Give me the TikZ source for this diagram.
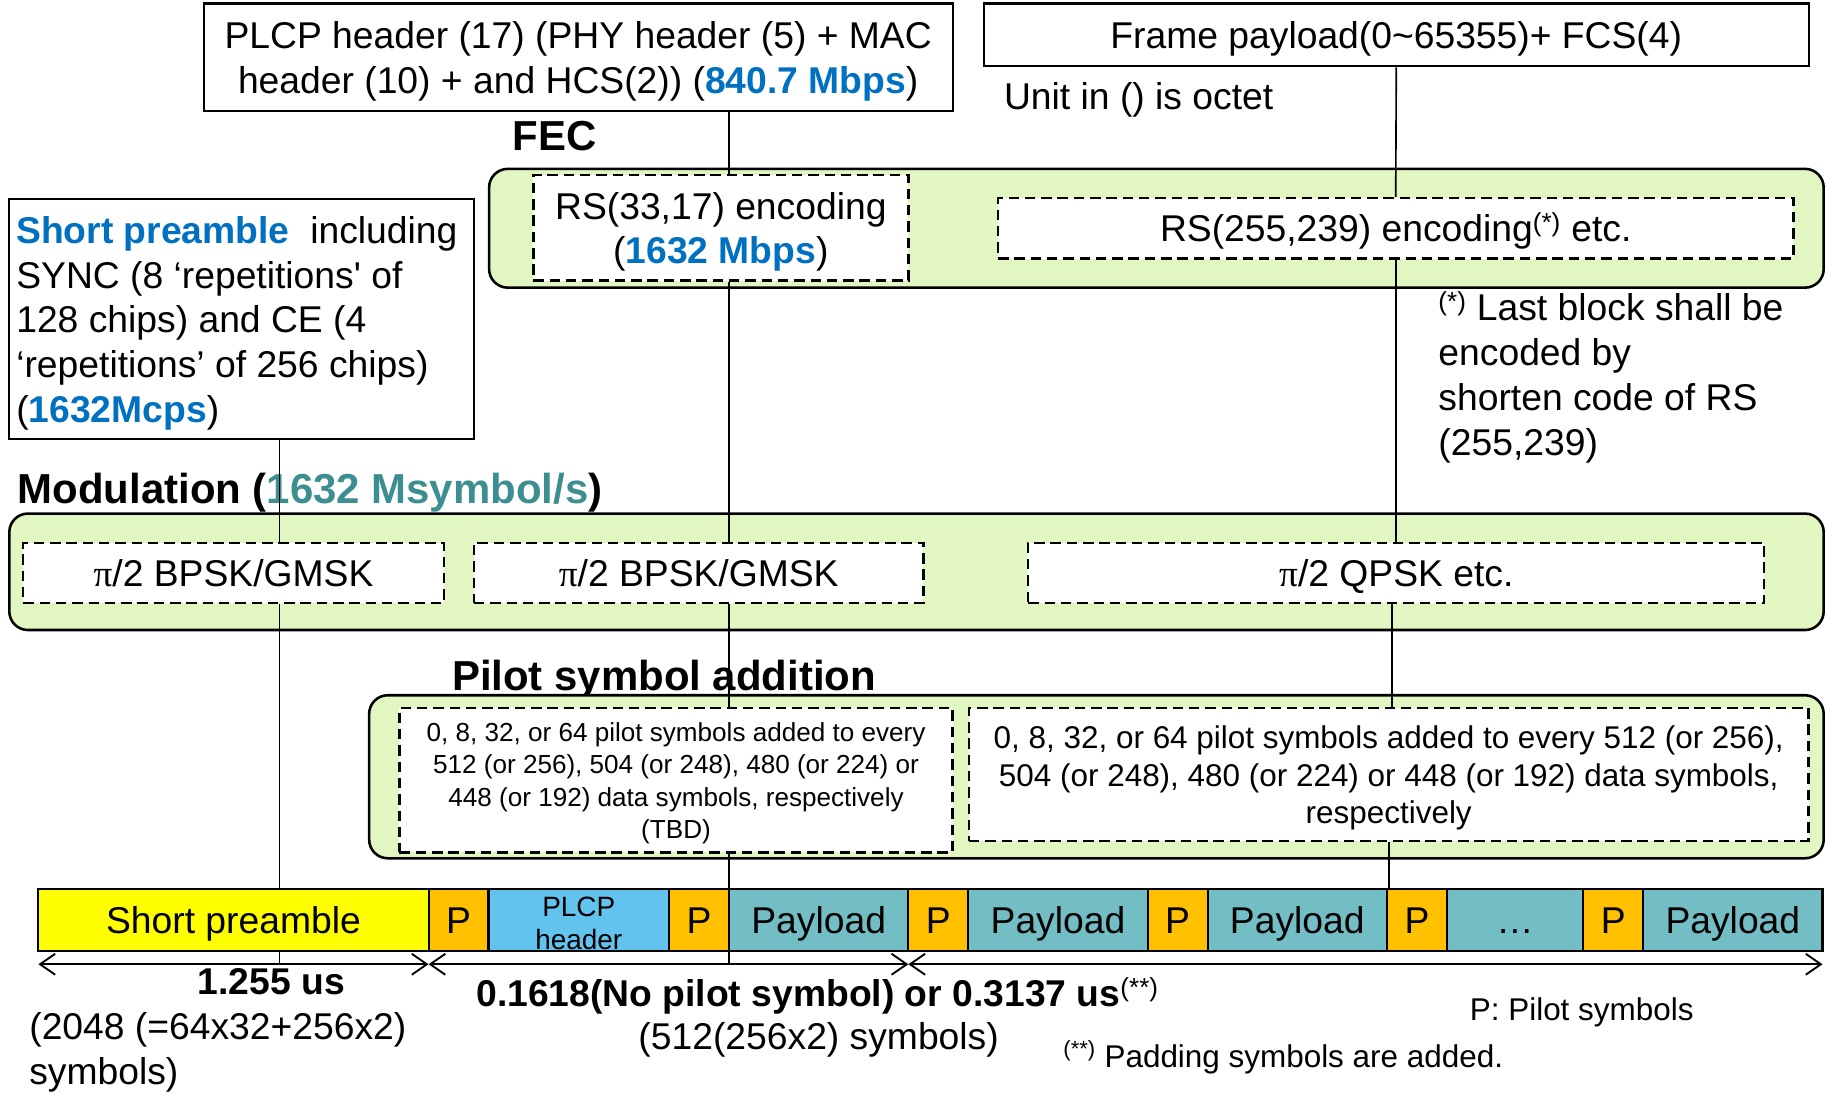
\documentclass[tikz,border=0pt]{standalone}
\usepackage{fontspec}
\setmainfont{Liberation Sans}
\newfontfamily\greekfont{Liberation Serif}
\usepackage{tikz}
\usetikzlibrary{arrows.meta,positioning}

\definecolor{textblue}{RGB}{0,112,192}
\definecolor{textteal}{RGB}{60,142,145}
\definecolor{stagegreen}{RGB}{226,246,194}
\definecolor{preyellow}{RGB}{255,255,0}
\definecolor{pilotorange}{RGB}{255,192,0}
\definecolor{headerblue}{RGB}{98,195,238}
\definecolor{payloadteal}{RGB}{114,190,196}

\newcommand{\fsbody}{\fontsize{32}{38.5}\selectfont}
\newcommand{\fshead}{\fontsize{36}{43}\selectfont}
\newcommand{\fspila}{\fontsize{22.4}{28}\selectfont}
\newcommand{\fspilb}{\fontsize{27}{32.5}\selectfont}
\newcommand{\fsseg}{\fontsize{24}{28}\selectfont}
\newcommand{\capstrut}{\rule[-.234em]{0pt}{1.184em}}

\begin{document}
\begin{tikzpicture}[x=1pt,y=-1pt,font=\fsbody,
    solid box/.style={draw,line width=1.8pt,fill=white,inner sep=0pt,align=flush center,execute at begin node=\capstrut},
    dash box/.style={draw,dash pattern=on 9pt off 5pt,line width=2pt,fill=white,inner sep=0pt,align=flush center,execute at begin node=\capstrut},
    stage box/.style={draw,line width=2.2pt,rounded corners=16pt,fill=stagegreen},
    stage head/.style={font=\fshead\bfseries,inner sep=0pt,anchor=west},
    seg/.style={draw,line width=1.8pt,minimum height=54pt,inner sep=0pt,outer sep=0pt,align=flush center,execute at begin node=\capstrut},
    pilot seg/.style={seg,fill=pilotorange,minimum width=51.5pt},
    payload seg/.style={seg,fill=payloadteal,minimum width=154pt},
    link/.style={line width=1.4pt},
    dim arrow/.style={{Straight Barb[length=13pt,width=18pt]}-{Straight Barb[length=13pt,width=18pt]},line width=1.6pt}]

    \useasboundingbox (0,0) rectangle (1568,940);

    \node[solid box,text width=630pt,minimum width=643pt,minimum height=92pt] (plcp) at (496.5,49)
        {PLCP header (17) (PHY header (5) + MAC\\header (10) + and HCS(2)) ({\bfseries\color{textblue}840.7 Mbps})};
    \node[solid box,minimum width=708pt,minimum height=54pt] (frame) at (1199,30)
        {Frame payload(0\textasciitilde 65355)+ FCS(4)};
    \node[anchor=west,inner sep=0pt] (unit) at (862,86) {Unit in () is octet};

    \node[stage head] (fechead) at (440,117) {FEC};
    \node[stage box,minimum width=1146pt,minimum height=102pt] (coding) at (993,196) {};
    \node[dash box,text width=312pt,minimum width=322pt,minimum height=91pt] (rsa) at (619,195.5)
        {RS(33,17) encoding\\({\bfseries\color{textblue}1632 Mbps})};
    \node[dash box,minimum width=683pt,minimum height=52pt] (rsb) at (1198.5,196)
        {RS(255,239) encoding\textsuperscript{(*)} etc.};

    \node[solid box,align=flush left,text width=387pt,inner xsep=6pt,minimum width=399pt,minimum height=206pt] (spdesc) at (207.5,274)
        {{\bfseries\color{textblue}Short preamble}\ \ including\\SYNC (8 ‘repetitions\textquotesingle\ of\\128 chips) and CE (4\\‘repetitions’ of 256 chips)\\({\bfseries\color{textblue}1632Mcps})};
    \node[anchor=west,align=left,inner sep=0pt] (note) at (1235,324)
        {\textsuperscript{(*)} Last block shall be\\encoded by\\shorten code of RS\\(255,239)};

    \node[stage head] (modhead) at (15,423) {Modulation ({\color{textteal}1632 Msymbol/s})};
    \node[stage box,minimum width=1558pt,minimum height=100pt] (modulation) at (787,491) {};
    \node[dash box,minimum width=361pt,minimum height=52pt] (bpska) at (200.5,492) {{\greekfont π}/2 BPSK/GMSK};
    \node[dash box,minimum width=386pt,minimum height=52pt] (bpskb) at (600,492) {{\greekfont π}/2 BPSK/GMSK};
    \node[dash box,minimum width=632pt,minimum height=52pt] (qpsk) at (1199,492) {{\greekfont π}/2 QPSK etc.};

    \node[stage head] (pilhead) at (388,584) {Pilot symbol addition};
    \node[stage box,minimum width=1249pt,minimum height=140pt] (pilot) at (941.5,667) {};
    \node[dash box,text width=465pt,minimum width=475pt,minimum height=124pt,font=\fspila] (pila) at (580.5,670)
        {0, 8, 32, or 64 pilot symbols added to every\\512 (or 256), 504 (or 248), 480 (or 224) or\\448 (or 192) data symbols, respectively\\(TBD)};
    \node[dash box,text width=712pt,minimum width=721pt,minimum height=114pt,font=\fspilb] (pilb) at (1192.5,665)
        {0, 8, 32, or 64 pilot symbols added to every 512 (or 256),\\504 (or 248), 480 (or 224) or 448 (or 192) data symbols,\\respectively};

    \node[seg,fill=preyellow,minimum width=335pt,anchor=west] (sp) at (33,790) {Short preamble};
    \node[pilot seg] (p0) [right=0pt of sp] {P};
    \node[seg,fill=headerblue,text width=150pt,minimum width=155pt,font=\fsseg] (hdr) [right=0pt of p0] {PLCP\\header};
    \node[pilot seg] (p1) [right=0pt of hdr] {P};
    \node[payload seg] (pay1) [right=0pt of p1] {Payload};
    \node[pilot seg] (p2) [right=0pt of pay1] {P};
    \node[payload seg] (pay2) [right=0pt of p2] {Payload};
    \node[pilot seg] (p3) [right=0pt of pay2] {P};
    \node[payload seg] (pay3) [right=0pt of p3] {Payload};
    \node[pilot seg] (p4) [right=0pt of pay3] {P};
    \node[payload seg,minimum width=117pt] (dots) [right=0pt of p4] {…};
    \node[pilot seg] (p5) [right=0pt of dots] {P};
    \node[payload seg] (pay4) [right=0pt of p5] {Payload};

    \coordinate (lx) at (240,0);
    \coordinate (rx) at (1195.5,0);
    \coordinate (dimy) at (0,828);

    \path[link] (plcp.south -| pay1.west) edge (rsa.north -| pay1.west)
        (rsa.south -| pay1.west) edge (bpskb.north -| pay1.west)
        (bpskb.south -| pay1.west) edge (pila.north -| pay1.west)
        (pila.south -| pay1.west) edge (pay1.north west)
        (pay1.south west) edge (pay1.west |- dimy);
    \path[link] (frame.south) edge (rsb.north)
        (rsb.south) edge (rsb.south |- qpsk.north)
        (qpsk.south -| rx) edge (pilb.north -| rx)
        (pilb.south) edge (pilb.south |- p4.north);
    \path[link] (spdesc.south -| lx) edge (bpska.north -| lx)
        (bpska.south -| lx) edge (sp.north -| lx)
        (sp.south -| lx) edge (lx |- dimy);

    \draw[dim arrow] (sp.west |- dimy) -- (sp.east |- dimy);
    \draw[dim arrow] (p0.west |- dimy) -- (pay1.east |- dimy);
    \draw[dim arrow] (p2.west |- dimy) -- (pay4.east |- dimy);

    \node[font=\fsbody\bfseries,inner sep=0pt] (pretime) at (233,843) {1.255 us};
    \node[anchor=west,align=left,inner sep=0pt] (precount) at (25,904) {(2048 (=64x32+256x2)\\symbols)};
    \node[font=\fsbody\bfseries,inner sep=0pt] (hdrtime) at (702,855)
        {0.1618(No pilot symbol) or 0.3137 us\textsuperscript{\mdseries(**)}};
    \node[inner sep=0pt] (hdrcount) at (703,893) {(512(256x2) symbols)};
    \node[anchor=west,inner sep=0pt,font=\fspilb] (pkey) at (1262,869) {P: Pilot symbols};
    \node[anchor=west,inner sep=0pt,font=\fspilb] (padding) at (913,908)
        {\textsuperscript{(**)} Padding symbols are added.};
\end{tikzpicture}
\end{document}
